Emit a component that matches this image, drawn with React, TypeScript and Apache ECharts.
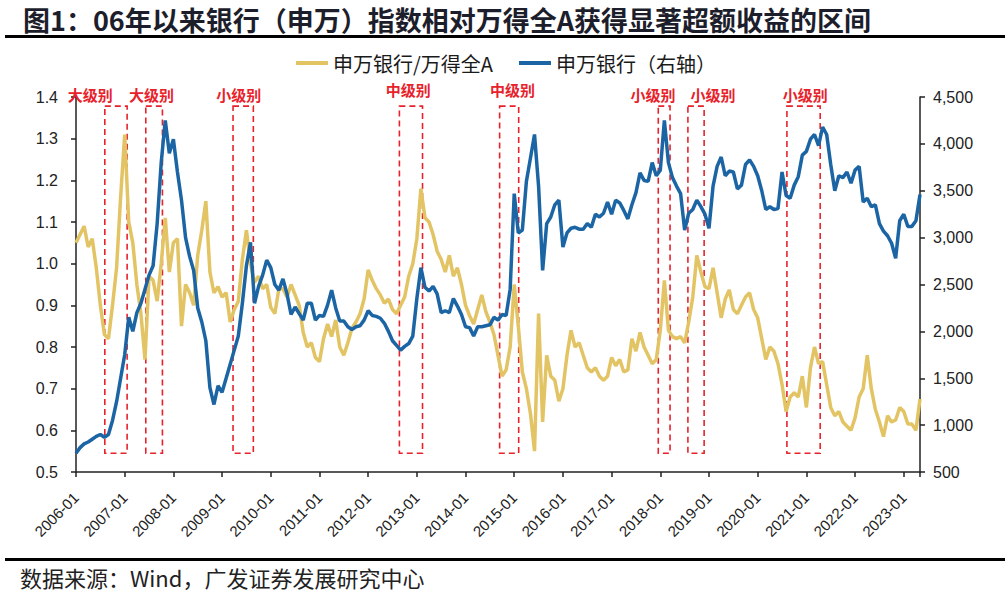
import React, { useEffect, useRef } from "react";
import * as echarts from "echarts";

const yearLabels = [
  "2006-01", "2007-01", "2008-01", "2009-01", "2010-01", "2011-01",
  "2012-01", "2013-01", "2014-01", "2015-01", "2016-01", "2017-01",
  "2018-01", "2019-01", "2020-01", "2021-01", "2022-01", "2023-01",
];

const seriesNames = ["申万银行/万得全A", "申万银行（右轴）"];

// Monthly values, 2006-01 .. 2023-05
const ratioValues = [
  1.05, 1.07, 1.09, 1.04, 1.06, 0.99, 0.90, 0.83, 0.82, 0.90, 0.99, 1.16,
  1.31, 1.10, 1.05, 0.95, 0.88, 0.77, 0.97, 0.96, 0.91, 1.00, 1.11, 0.98,
  1.05, 1.06, 0.85, 0.95, 0.93, 0.90, 1.02, 1.08, 1.15, 0.98, 0.93, 0.945,
  0.92, 0.93, 0.86, 0.89, 0.91, 1.01, 1.08, 1.00, 0.955, 0.97, 0.94, 0.95,
  0.895, 0.88, 0.94, 0.94, 0.92, 0.95, 0.925, 0.90, 0.835, 0.80, 0.81, 0.775,
  0.765, 0.82, 0.855, 0.825, 0.865, 0.80, 0.78, 0.81, 0.845, 0.86, 0.88, 0.915,
  0.985, 0.96, 0.94, 0.925, 0.905, 0.915, 0.89, 0.88, 0.90, 0.92, 0.97, 1.00,
  1.06, 1.18, 1.11, 1.10, 1.07, 1.03, 1.01, 0.98, 1.02, 0.97, 0.99, 0.95,
  0.90, 0.875, 0.855, 0.89, 0.925, 0.885, 0.86, 0.83, 0.78, 0.73, 0.745, 0.80,
  0.95, 0.85, 0.74, 0.70, 0.64, 0.55, 0.88, 0.62, 0.78, 0.73, 0.72, 0.67,
  0.70, 0.78, 0.84, 0.80, 0.81, 0.78, 0.75, 0.74, 0.75, 0.73, 0.72, 0.73,
  0.775, 0.755, 0.77, 0.74, 0.745, 0.82, 0.79, 0.835, 0.80, 0.78, 0.76, 0.77,
  0.84, 0.96, 0.84, 0.825, 0.82, 0.825, 0.81, 0.86, 0.92, 1.02, 0.98, 0.945,
  0.94, 0.99, 0.93, 0.87, 0.915, 0.937, 0.89, 0.88, 0.90, 0.92, 0.93, 0.89,
  0.87, 0.82, 0.77, 0.80, 0.79, 0.76, 0.71, 0.645, 0.68, 0.69, 0.68, 0.73,
  0.655, 0.75, 0.80, 0.76, 0.765, 0.71, 0.655, 0.635, 0.645, 0.62, 0.61, 0.60,
  0.63, 0.68, 0.70, 0.78, 0.70, 0.65, 0.62, 0.585, 0.635, 0.62, 0.625, 0.655,
  0.645, 0.615, 0.615, 0.60, 0.675,
];

const bankIndexValues = [
  700, 760, 800, 820, 850, 880, 900, 870, 900, 1050, 1250, 1500,
  1750, 2150, 2000, 2200, 2300, 2450, 2600, 2700, 3150, 3800, 4250, 3900,
  4050, 3700, 3400, 3000, 2800, 2650, 2250, 2100, 1900, 1400, 1220, 1420,
  1350, 1500, 1650, 1800, 1950, 2300, 2700, 2950, 2300, 2480, 2600, 2760,
  2680, 2500, 2440, 2560, 2400, 2180, 2260, 2190, 2120, 2300, 2300, 2120,
  2170, 2160, 2280, 2440, 2250, 2110, 2110, 2050, 2020, 2050, 2060, 2120,
  2220, 2170, 2160, 2140, 2086, 2000, 1900, 1850, 1800, 1840, 1870, 1950,
  2350, 2680, 2470, 2430, 2480, 2400, 2200, 2220, 2200, 2350, 2270, 2180,
  2050, 2040, 1950, 2050, 2050, 2060, 2070, 2150, 2120, 2180, 2170, 2450,
  3470, 3050, 3080, 3600, 3850, 4100, 3550, 2650, 3150, 3220, 3350, 3400,
  2900, 3050, 3100, 3110, 3090, 3090, 3150, 3110, 3250, 3220, 3260, 3380,
  3250, 3400, 3370, 3290, 3200, 3350, 3480, 3690, 3610, 3600, 3800, 3660,
  3720, 4250, 3800, 3640, 3550, 3470, 3080, 3260, 3300, 3400, 3330, 3250,
  3100, 3550, 3760, 3860, 3660, 3710, 3700, 3520, 3560, 3780, 3830, 3760,
  3660, 3500, 3300, 3330, 3300, 3310, 3700, 3450, 3420, 3560, 3650, 3880,
  3920, 4050, 4100, 3980, 4180, 4100, 3780, 3500, 3660, 3640, 3700, 3580,
  3720, 3760, 3380, 3420, 3330, 3350, 3150, 3070, 3020, 2940, 2780, 3180,
  3250, 3120, 3120, 3180, 3460,
];

// Highlighted intervals (month index from 2006-01)
const boxLabels = ["大级别", "大级别", "小级别", "中级别", "中级别", "小级别", "小级别", "小级别"];
const boxStartMonth = [7.1, 17.2, 38.7, 79.7, 104.4, 143.5, 150.8, 175.2];
const boxEndMonth = [12.6, 21.3, 43.7, 85.4, 109.1, 146.4, 154.8, 183.4];
const labelMonth = [3.5, 18.6, 40.1, 81.9, 107.6, 142.2, 157.0, 179.7];
const labelLevel = [1.407, 1.407, 1.407, 1.417, 1.417, 1.407, 1.407, 1.407];
const boxTop = 1.378;
const boxBottom = 0.545;

const titleText = "图1：06年以来银行（申万）指数相对万得全A获得显著超额收益的区间";
const sourceText = "数据来源：Wind，广发证券发展研究中心";

const YELLOW = "#E3C464";
const BLUE = "#1C65A4";
const RED = "#E8222B";
const CJK = "'Noto Sans CJK SC', 'Noto Sans', sans-serif";
const LATIN = "'Liberation Sans', Arial, sans-serif";

export default function App() {
  const ref = useRef<HTMLDivElement>(null);

  useEffect(() => {
    if (!ref.current) return;
    const chart = echarts.init(ref.current, undefined, { renderer: "svg" });
    const lastMonth = ratioValues.length - 1;

    const baseGraphics: any[] = [
      { id: "titleRule", type: "rect", shape: { x: 5, y: 35, width: 1000, height: 3 }, style: { fill: "#000" } },
      { id: "footRule", type: "rect", shape: { x: 5, y: 558, width: 1000, height: 3 }, style: { fill: "#000" } },
      {
        id: "source",
        type: "text",
        left: 20,
        top: 566,
        style: { text: sourceText, font: `22px ${CJK}`, fill: "#222" },
      },
    ];

    const option: any = {
      animation: false,
      backgroundColor: "#ffffff",
      title: {
        text: titleText,
        left: 18,
        top: 1,
        textStyle: {
          fontFamily: CJK,
          fontSize: 27,
          fontWeight: "bold",
          color: "#1d1e2c",
        },
      },
      graphic: baseGraphics,
      legend: {
        data: seriesNames,
        left: 291,
        top: 48,
        icon: "rect",
        itemWidth: 32,
        itemHeight: 4,
        itemGap: 26,
        textStyle: { fontFamily: CJK, fontSize: 20, color: "#1a1a1a" },
      },
      grid: { left: 76, right: 87, top: 97, bottom: 128, containLabel: false },
      xAxis: {
        type: "value",
        min: 0,
        max: lastMonth,
        interval: 12,
        splitLine: { show: false },
        axisLine: { show: true, lineStyle: { color: "#222", width: 1.5 } },
        axisTick: { show: true, length: 5, lineStyle: { color: "#222", width: 1.5 } },
        axisLabel: {
          rotate: 45,
          margin: 23,
          fontFamily: LATIN,
          fontSize: 15,
          color: "#222",
          formatter: (v: number) => {
            const i = v / 12;
            return Number.isInteger(i) && i < yearLabels.length ? yearLabels[i] : "";
          },
        },
      },
      yAxis: [
        {
          type: "value",
          min: 0.5,
          max: 1.4,
          interval: 0.1,
          position: "left",
          splitLine: { show: false },
          axisLine: { show: true, lineStyle: { color: "#222", width: 1.5 } },
          axisTick: { show: true, length: 5, lineStyle: { color: "#222", width: 1.5 } },
          axisLabel: {
            fontFamily: LATIN,
            fontSize: 16,
            color: "#222",
            margin: 18,
            formatter: (v: number) => v.toFixed(1),
          },
        },
        {
          type: "value",
          min: 500,
          max: 4500,
          interval: 500,
          position: "right",
          splitLine: { show: false },
          axisLine: { show: true, lineStyle: { color: "#222", width: 1.5 } },
          axisTick: { show: true, length: 5, lineStyle: { color: "#222", width: 1.5 } },
          axisLabel: {
            fontFamily: LATIN,
            fontSize: 16,
            color: "#222",
            margin: 13,
            formatter: (v: number) => v.toLocaleString("en-US"),
          },
        },
      ],
      series: [
        {
          name: seriesNames[0],
          type: "line",
          yAxisIndex: 0,
          showSymbol: false,
          symbol: "none",
          color: YELLOW,
          lineStyle: { color: YELLOW, width: 3.5 },
          data: ratioValues.map((v, i) => [i, v]),
          z: 2,
        },
        {
          name: seriesNames[1],
          type: "line",
          yAxisIndex: 1,
          showSymbol: false,
          symbol: "none",
          color: BLUE,
          lineStyle: { color: BLUE, width: 3.5 },
          data: bankIndexValues.map((v, i) => [i, v]),
          z: 3,
        },
        {
          name: "annotations",
          type: "line",
          yAxisIndex: 0,
          data: [],
          z: 10,
          silent: true,
          markArea: {
            silent: true,
            itemStyle: {
              color: "rgba(0,0,0,0)",
              borderColor: RED,
              borderWidth: 1.6,
              borderType: [6, 4],
            },
            label: { show: false },
            data: boxLabels.map((_, i) => [
              { xAxis: boxStartMonth[i], yAxis: boxTop },
              { xAxis: boxEndMonth[i], yAxis: boxBottom },
            ]),
          },
        },
      ],
    };

    chart.setOption(option);

    const labelGraphics = boxLabels.map((t, i) => {
      const p = chart.convertToPixel({ xAxisIndex: 0, yAxisIndex: 0 }, [labelMonth[i], labelLevel[i]]) as number[];
      return {
        id: "boxLabel" + i,
        type: "text",
        x: p[0],
        y: p[1],
        z: 20,
        style: {
          text: t,
          font: `bold 15px ${CJK}`,
          fill: RED,
          align: "center",
          verticalAlign: "middle",
        },
      };
    });
    chart.setOption({ graphic: [...baseGraphics, ...labelGraphics] });

    return () => chart.dispose();
  }, []);

  return (
    <div
      ref={ref}
      style={{ position: "fixed", left: 0, top: 0, width: 1007, height: 600, background: "#fff" }}
    />
  );
}
